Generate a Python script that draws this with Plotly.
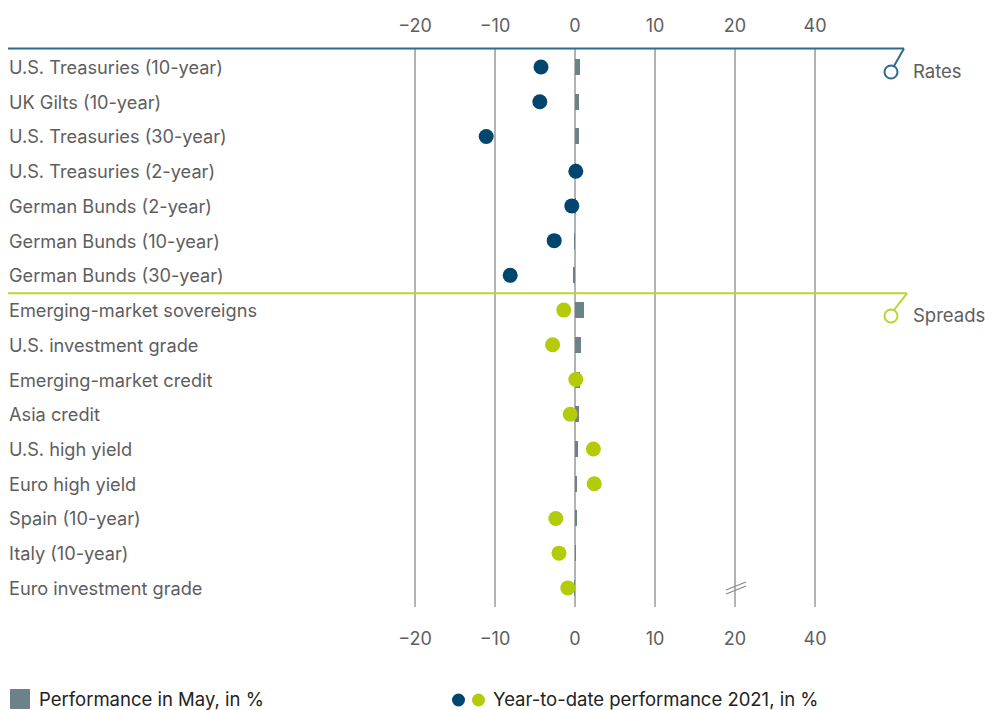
import plotly.graph_objects as go

# Categories, top to bottom
rates = [
    "U.S. Treasuries (10-year)",
    "UK Gilts (10-year)",
    "U.S. Treasuries (30-year)",
    "U.S. Treasuries (2-year)",
    "German Bunds (2-year)",
    "German Bunds (10-year)",
    "German Bunds (30-year)",
]
spreads = [
    "Emerging-market sovereigns",
    "U.S. investment grade",
    "Emerging-market credit",
    "Asia credit",
    "U.S. high yield",
    "Euro high yield",
    "Spain (10-year)",
    "Italy (10-year)",
    "Euro investment grade",
]
categories = rates + spreads

# Performance in May, in %
may_rates = [0.6, 0.5, 0.45, 0.05, 0.02, -0.05, -0.2]
may_spreads = [1.1, 0.75, 0.65, 0.55, 0.35, 0.2, 0.2, 0.1, -0.1]

# Year-to-date performance 2021, in %
ytd_rates = [-4.25, -4.4, -11.1, 0.1, -0.4, -2.6, -8.1]
ytd_spreads = [-1.4, -2.8, 0.1, -0.6, 2.3, 2.4, -2.4, -2.0, -0.9]

# Axis ticks (axis is broken between 20 and 40)
tick_vals = [-20, -10, 0, 10, 20, 30]
tick_text = ["\u221220", "\u221210", "0", "10", "20", "40"]

BLUE = "#00466e"
BLUE_LINE = "#2d6a8c"
LIME = "#b3cb08"
LIME_LINE = "#bcd431"
BAR = "#6d8288"
TEXT = "#5e5e5e"
GRID = "#b3b3b3"
FONT = "Inter, Roboto, Arial, sans-serif"

W, H = 985, 710
PLOT_TOP, PLOT_BOTTOM = 48, 607


def px(x):
    return x / W


def py(y):
    return (PLOT_BOTTOM - y) / (PLOT_BOTTOM - PLOT_TOP)


fig = go.Figure()

fig.add_trace(go.Bar(
    y=categories, x=may_rates + may_spreads, orientation="h",
    marker=dict(color=BAR, line=dict(width=0)), width=0.46,
    showlegend=False, hoverinfo="x+y",
))
fig.add_trace(go.Scatter(
    y=rates, x=ytd_rates, mode="markers",
    marker=dict(color=BLUE, size=15, line=dict(width=0)),
    showlegend=False,
))
fig.add_trace(go.Scatter(
    y=spreads, x=ytd_spreads, mode="markers",
    marker=dict(color=LIME, size=15, line=dict(width=0)),
    showlegend=False,
))
# invisible trace carrying the bottom axis
fig.add_trace(go.Scatter(x=[0], y=[categories[0]], xaxis="x2", mode="markers",
                         marker=dict(opacity=0), showlegend=False, hoverinfo="skip"))

x_range = [-575 / 8, (W - 575) / 8]
axis_common = dict(
    range=x_range, tickvals=tick_vals, ticktext=tick_text,
    showgrid=True, gridcolor=GRID, gridwidth=1.5, zeroline=False,
    showline=False, tickfont=dict(family=FONT, size=18, color=TEXT),
    ticks="outside", tickcolor="rgba(0,0,0,0)",
)

fig.update_layout(
    width=W, height=H,
    margin=dict(l=0, r=0, t=PLOT_TOP, b=H - PLOT_BOTTOM),
    plot_bgcolor="white", paper_bgcolor="white",
    showlegend=False,
    bargap=0,
    xaxis=dict(side="top", ticklen=8, **axis_common),
    xaxis2=dict(side="bottom", overlaying="x", ticklen=15, **axis_common),
    yaxis=dict(categoryorder="array", categoryarray=categories,
               range=[15.55, -0.547], showticklabels=False, showgrid=False,
               zeroline=False, fixedrange=True),
    font=dict(family=FONT, color=TEXT),
)

# Category labels, left-aligned
for c in categories:
    fig.add_annotation(x=px(7), xref="paper", y=c, yref="y", text=c,
                       showarrow=False, xanchor="left", yanchor="middle",
                       font=dict(family=FONT, size=18.2, color=TEXT))

shapes = []
# Group separators with their callouts
for y_line, x_end, circ_y, col, label in [
    (48.5, 904, 72, BLUE_LINE, "Rates"),
    (293.3, 907, 316, LIME_LINE, "Spreads"),
]:
    shapes.append(dict(type="line", xref="paper", yref="paper",
                       x0=px(8), x1=px(x_end), y0=py(y_line), y1=py(y_line),
                       line=dict(color=col, width=2)))
    shapes.append(dict(type="line", xref="paper", yref="paper",
                       x0=px(x_end), x1=px(894), y0=py(y_line), y1=py(circ_y - 6),
                       line=dict(color=col, width=2)))
    shapes.append(dict(type="circle", xref="paper", yref="paper",
                       x0=px(884.5), x1=px(897.5), y0=py(circ_y - 6.5), y1=py(circ_y + 6.5),
                       line=dict(color=col, width=2), fillcolor="white"))
    fig.add_annotation(x=px(911), xref="paper", y=py(circ_y - 1), yref="paper",
                       text=label, showarrow=False, xanchor="left", yanchor="middle",
                       font=dict(family=FONT, size=18.5, color=TEXT))

# Axis break marks
for dy in (0, 4):
    shapes.append(dict(type="line", xref="paper", yref="paper",
                       x0=px(726), x1=px(746), y0=py(594 + dy - 4), y1=py(586 + dy - 4),
                       line=dict(color="#8a8a8a", width=1.2)))

# Legend
shapes.append(dict(type="rect", xref="paper", yref="paper",
                   x0=px(10), x1=px(30), y0=py(689), y1=py(709),
                   line=dict(width=0), fillcolor=BAR))
for cx, col in [(458.5, BLUE), (478.5, LIME)]:
    shapes.append(dict(type="circle", xref="paper", yref="paper",
                       x0=px(cx - 6.5), x1=px(cx + 6.5), y0=py(693.5), y1=py(706.5),
                       line=dict(width=0), fillcolor=col))
fig.add_annotation(x=px(37), xref="paper", y=py(699), yref="paper",
                   text="Performance in May, in %", showarrow=False,
                   xanchor="left", yanchor="middle",
                   font=dict(family=FONT, size=18.5, color="#222222"))
fig.add_annotation(x=px(491), xref="paper", y=py(699), yref="paper",
                   text="Year-to-date performance 2021, in %", showarrow=False,
                   xanchor="left", yanchor="middle",
                   font=dict(family=FONT, size=18.5, color="#222222"))

fig.update_layout(shapes=shapes)
fig.write_html("out.html")
